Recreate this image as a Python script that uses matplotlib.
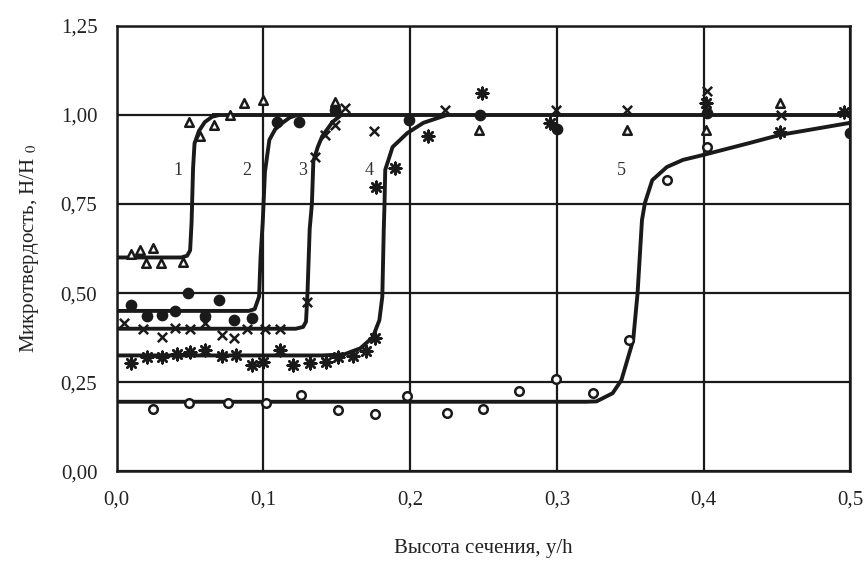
import matplotlib.pyplot as plt

plt.rcParams['font.family'] = ['Liberation Serif', 'DejaVu Serif']
plt.rcParams['mathtext.fontset'] = 'stix'

# fitted curves (y/h, H/H0)
c1_x = [0.0, 0.044, 0.048, 0.050, 0.051, 0.052, 0.053, 0.056, 0.060, 0.065, 0.070]
c1_y = [0.60, 0.60, 0.605, 0.62, 0.70, 0.85, 0.92, 0.955, 0.98, 0.995, 1.0]
c2_x = [0.0, 0.090, 0.094, 0.097, 0.098, 0.0995, 0.101, 0.104, 0.108, 0.113, 0.118, 0.123]
c2_y = [0.45, 0.45, 0.455, 0.49, 0.60, 0.70, 0.84, 0.93, 0.96, 0.978, 0.993, 1.0]
c3_x = [0.0, 0.122, 0.127, 0.129, 0.130, 0.1315, 0.133, 0.134, 0.137, 0.140, 0.147, 0.153]
c3_y = [0.40, 0.40, 0.405, 0.42, 0.50, 0.68, 0.75, 0.87, 0.91, 0.94, 0.98, 1.0]
c4_x = [0.0, 0.140, 0.155, 0.166, 0.1745, 0.179, 0.181, 0.182, 0.1825, 0.183, 0.188, 0.198, 0.209, 0.225]
c4_y = [0.325, 0.325, 0.328, 0.345, 0.376, 0.424, 0.49, 0.68, 0.75, 0.846, 0.91, 0.949, 0.978, 1.0]
c5_x = [0.0, 0.320, 0.327, 0.338, 0.344, 0.348, 0.352, 0.355, 0.358, 0.360, 0.365, 0.375, 0.386, 0.400, 0.431, 0.452, 0.500]
c5_y = [0.195, 0.195, 0.196, 0.219, 0.256, 0.312, 0.368, 0.50, 0.705, 0.753, 0.817, 0.854, 0.874, 0.888, 0.921, 0.944, 0.978]
top_x = [0.065, 0.5]
top_y = [1.0, 1.0]

# measured points
tri_x = [0.010, 0.016, 0.0245, 0.020, 0.030, 0.045, 0.049, 0.0566, 0.066, 0.077, 0.087, 0.100, 0.149, 0.247, 0.348, 0.4015, 0.452]
tri_y = [0.61, 0.62, 0.626, 0.584, 0.584, 0.587, 0.98, 0.94, 0.972, 1.0, 1.034, 1.042, 1.037, 0.958, 0.958, 0.958, 1.034]
dot_x = [0.0095, 0.0205, 0.0305, 0.0395, 0.0484, 0.070, 0.060, 0.080, 0.092, 0.109, 0.1245, 0.149, 0.199, 0.2475, 0.300, 0.402, 0.500]
dot_y = [0.466, 0.435, 0.438, 0.449, 0.50, 0.48, 0.435, 0.424, 0.43, 0.98, 0.98, 1.014, 0.986, 1.0, 0.96, 1.005, 0.95]
crs_x = [0.005, 0.018, 0.031, 0.040, 0.050, 0.060, 0.0716, 0.080, 0.089, 0.101, 0.111, 0.130, 0.135, 0.142, 0.149, 0.1555, 0.175, 0.2235, 0.2995, 0.3475, 0.402, 0.453]
crs_y = [0.416, 0.399, 0.376, 0.402, 0.399, 0.416, 0.382, 0.374, 0.399, 0.399, 0.399, 0.475, 0.882, 0.944, 0.972, 1.02, 0.955, 1.014, 1.013, 1.013, 1.067, 1.0]
ast_x = [0.010, 0.0205, 0.031, 0.041, 0.050, 0.060, 0.072, 0.081, 0.092, 0.100, 0.111, 0.120, 0.1315, 0.1425, 0.1505, 0.161, 0.170, 0.176, 0.177, 0.1895, 0.212, 0.249, 0.295, 0.4015, 0.452, 0.496]
ast_y = [0.303, 0.320, 0.320, 0.329, 0.334, 0.340, 0.323, 0.326, 0.298, 0.306, 0.340, 0.298, 0.303, 0.306, 0.320, 0.323, 0.337, 0.374, 0.798, 0.851, 0.941, 1.062, 0.978, 1.034, 0.952, 1.008]
circ_x = [0.025, 0.049, 0.0757, 0.102, 0.1255, 0.1506, 0.176, 0.198, 0.225, 0.2495, 0.274, 0.2995, 0.3245, 0.349, 0.375, 0.402]
circ_y = [0.174, 0.191, 0.191, 0.191, 0.213, 0.171, 0.160, 0.210, 0.163, 0.174, 0.225, 0.258, 0.219, 0.368, 0.817, 0.910]

curve_labels = ['1', '2', '3', '4', '5']
label_x = [0.0415, 0.0886, 0.127, 0.172, 0.344]
label_y = [0.845, 0.845, 0.845, 0.845, 0.845]

fig = plt.figure(figsize=(8.65, 5.63), dpi=100)
ax = fig.add_axes([0.135, 0.163, 0.848, 0.791])

ink = '#1a1a1a'
for cx, cy in [(c1_x, c1_y), (c2_x, c2_y), (c3_x, c3_y), (c4_x, c4_y), (c5_x, c5_y), (top_x, top_y)]:
    ax.plot(cx, cy, color=ink, lw=2.8, solid_capstyle='butt', zorder=3)

ax.scatter(tri_x, tri_y, marker='^', s=38, facecolors='white', edgecolors=ink, linewidths=1.8, zorder=4)
ax.scatter(dot_x, dot_y, marker='o', s=55, color=ink, zorder=4)
ax.scatter(crs_x, crs_y, marker='x', s=45, color=ink, linewidths=1.8, zorder=4)
ax.scatter(ast_x, ast_y, marker=(8, 2, 0), s=70, color=ink, linewidths=1.8, zorder=4)
ax.scatter(circ_x, circ_y, marker='o', s=38, facecolors='white', edgecolors=ink, linewidths=1.8, zorder=4)

for t, lx, ly in zip(curve_labels, label_x, label_y):
    ax.text(lx, ly, t, fontsize=13, ha='center', va='center', color='#333333')

ax.set_xlim(0, 0.5)
ax.set_ylim(0, 1.25)
ax.set_xticks([0, 0.1, 0.2, 0.3, 0.4, 0.5])
ax.set_xticklabels(['0,0', '0,1', '0,2', '0,3', '0,4', '0,5'])
ax.set_yticks([0, 0.25, 0.5, 0.75, 1.0, 1.25])
ax.set_yticklabels(['0,00', '0,25', '0,50', '0,75', '1,00', '1,25'])
ax.tick_params(length=0, labelsize=15, pad=14, colors='#222222')
ax.grid(True, color=ink, lw=1.6)
ax.set_axisbelow(True)
for s in ax.spines.values():
    s.set_linewidth(1.8)
    s.set_color(ink)

ax.set_xlabel('Высота сечения, y/h', fontsize=15, labelpad=21, color='#222222')
ax.set_ylabel('Микротвердость, H/H $_{0}$', fontsize=15, labelpad=14, color='#222222')

fig.savefig('out.png', dpi=100)
